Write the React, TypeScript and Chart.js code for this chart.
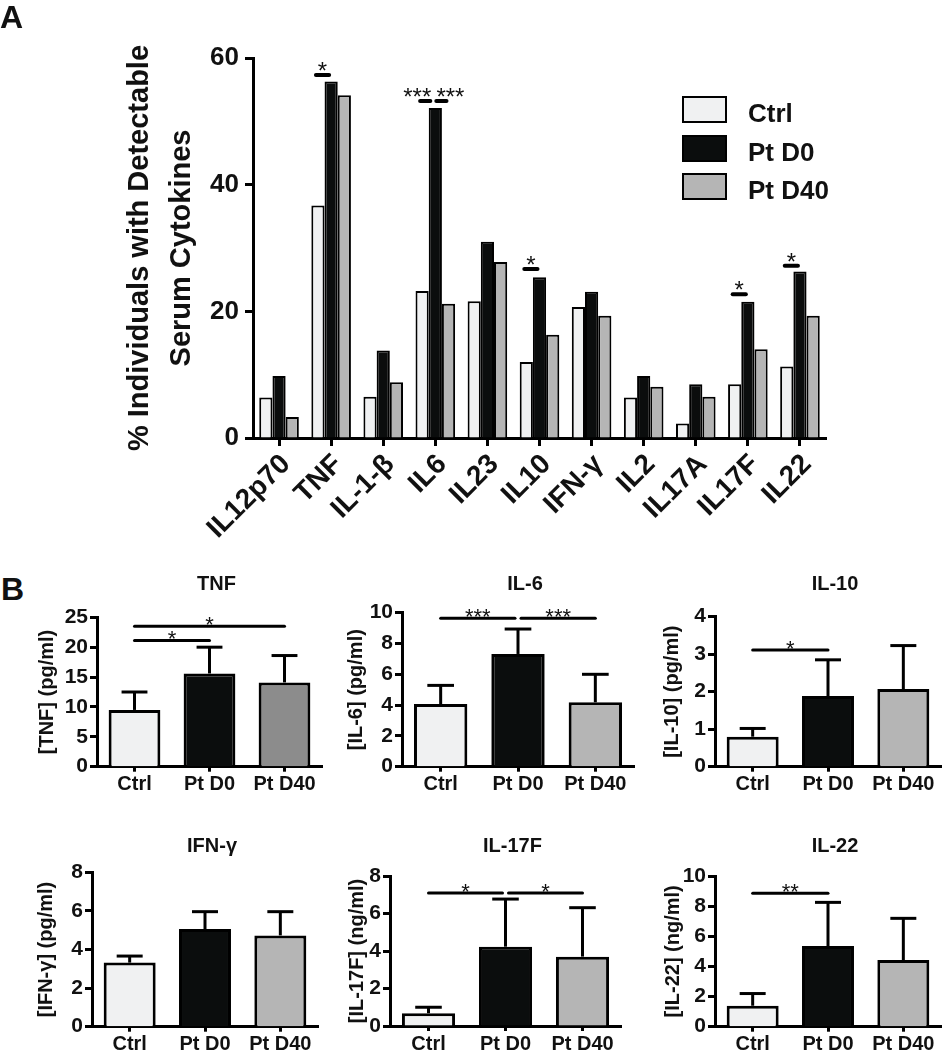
import React, { useEffect, useRef } from 'react';
import { Chart, registerables } from 'chart.js';

Chart.register(...registerables);

const FONT = '"Liberation Sans", Arial, Helvetica, sans-serif';
const BLACK = '#000000';
const TEXT = '#111111';

// ---------------- Panel A data ----------------
const cytokines = ['IL12p70', 'TNF', 'IL-1-β', 'IL6', 'IL23', 'IL10', 'IFN-γ', 'IL2', 'IL17A', 'IL17F', 'IL22'];
const groups = ['Ctrl', 'Pt D0', 'Pt D40'];
const ctrlPct = [6.4, 36.7, 6.5, 23.2, 21.6, 12.0, 20.7, 6.4, 2.3, 8.5, 11.3];
const ptD0Pct = [9.8, 56.3, 13.8, 52.1, 31.0, 25.4, 23.1, 9.8, 8.5, 21.5, 26.3];
const ptD40Pct = [3.3, 54.1, 8.8, 21.2, 27.8, 16.3, 19.3, 8.1, 6.5, 14.0, 19.3];
const pctMax = 60;
const pctStep = 20;
const yTitleA = ['% Individuals with Detectable', 'Serum Cytokines'];

const sigACategory = ['TNF', 'IL6', 'IL6', 'IL10', 'IL17F', 'IL22'];
const sigAFrom = [0, 0, 1, 0, 0, 0];
const sigATo = [1, 1, 2, 1, 1, 1];
const sigALevel = [57.3, 53.2, 53.2, 26.7, 22.7, 27.2];
const sigALabel = ['*', '***', '***', '*', '*', '*'];

const groupColors = ['#f0f1f2', '#0b0d0d', '#b5b5b5'];

// ---------------- Panel B data ----------------
const bGroups = ['Ctrl', 'Pt D0', 'Pt D40'];

const tnfMean = [9.5, 15.6, 14.1];
const tnfErr = [12.5, 20.0, 18.6];
const tnfSigFrom = [0, 0];
const tnfSigTo = [1, 2];
const tnfSigLevel = [21.1, 23.5];
const tnfSigLabel = ['*', '*'];

const il6Mean = [4.07, 7.32, 4.18];
const il6Err = [5.28, 8.94, 6.0];
const il6SigFrom = [0, 1];
const il6SigTo = [1, 2];
const il6SigLevel = [9.64, 9.64];
const il6SigLabel = ['***', '***'];

const il10Mean = [0.8, 1.885, 2.07];
const il10Err = [1.02, 2.85, 3.23];
const il10SigFrom = [0];
const il10SigTo = [1];
const il10SigLevel = [3.11];
const il10SigLabel = ['*'];

const ifnMean = [3.32, 5.06, 4.73];
const ifnErr = [3.66, 5.96, 5.96];
const ifnSigFrom: number[] = [];
const ifnSigTo: number[] = [];
const ifnSigLevel: number[] = [];
const ifnSigLabel: string[] = [];

const il17fMean = [0.68, 4.23, 3.7];
const il17fErr = [1.0, 6.77, 6.31];
const il17fSigFrom = [0, 1];
const il17fSigTo = [1, 2];
const il17fSigLevel = [7.1, 7.1];
const il17fSigLabel = ['*', '*'];

const il22Mean = [1.39, 5.35, 4.42];
const il22Err = [2.2, 8.25, 7.19];
const il22SigFrom = [0];
const il22SigTo = [1];
const il22SigLevel = [8.85];
const il22SigLabel = ['**'];

type SigLine = { x0: number; x1: number; y: number; label: string; dx: number };

function drawSigLines(ctx: CanvasRenderingContext2D, lines: SigLine[], lineWidth: number, starSize: number, starGap: number) {
  ctx.save();
  ctx.strokeStyle = BLACK;
  ctx.fillStyle = TEXT;
  ctx.lineWidth = lineWidth;
  ctx.lineCap = 'round';
  for (const l of lines) {
    ctx.beginPath();
    ctx.moveTo(l.x0, l.y);
    ctx.lineTo(l.x1, l.y);
    ctx.stroke();
    ctx.font = `normal ${starSize}px ${FONT}`;
    ctx.textAlign = 'center';
    ctx.textBaseline = 'alphabetic';
    ctx.fillText(l.label, (l.x0 + l.x1) / 2 + l.dx, l.y - starGap + 0.58 * starSize);
  }
  ctx.restore();
}

// ---------------- Panel A ----------------
function PanelA() {
  const ref = useRef<HTMLCanvasElement>(null);
  useEffect(() => {
    const W = 943;
    const H = 545;
    const area = { left: 253, right: 826, top: 58, bottom: 438 };
    const padLeft = 119;

    const sigPlugin = {
      id: 'sigA',
      afterDatasetsDraw(chart: any) {
        const ys = chart.scales.y;
        const gap = 3;
        const lines: SigLine[] = sigACategory.map((cat, i) => {
          const ci = cytokines.indexOf(cat);
          let x0 = chart.getDatasetMeta(sigAFrom[i]).data[ci].x;
          let x1 = chart.getDatasetMeta(sigATo[i]).data[ci].x;
          const sharedEnd = sigACategory.some((c2, j) => j !== i && c2 === cat && sigAFrom[j] === sigATo[i] && sigALevel[j] === sigALevel[i]);
          const sharedStart = sigACategory.some((c2, j) => j !== i && c2 === cat && sigATo[j] === sigAFrom[i] && sigALevel[j] === sigALevel[i]);
          let dx = 0;
          if (sharedEnd) { x1 -= gap; dx = -8; }
          if (sharedStart) { x0 += gap; dx = 9; }
          return { x0: x0 - 2, x1: x1 - 2, y: ys.getPixelForValue(sigALevel[i]), label: sigALabel[i], dx };
        });
        drawSigLines(chart.ctx, lines, 4, 24, 10);
      },
    };

    const series = [ctrlPct, ptD0Pct, ptD40Pct];
    const chart = new Chart(ref.current as HTMLCanvasElement, {
      type: 'bar',
      data: {
        labels: cytokines,
        datasets: groups.map((g, i) => ({
          label: g,
          data: series[i],
          backgroundColor: groupColors[i],
          borderColor: BLACK,
          borderWidth: 2,
          categoryPercentage: 0.76,
          barPercentage: 1,
        })),
      },
      options: {
        animation: false,
        responsive: false,
        maintainAspectRatio: false,
        devicePixelRatio: 1,
        layout: { padding: { left: padLeft, right: W - area.right, top: area.top, bottom: 0 } },
        plugins: { legend: { display: false }, tooltip: { enabled: false }, title: { display: false } },
        scales: {
          x: {
            offset: true,
            grid: { display: true, drawOnChartArea: false, drawTicks: true, tickLength: 8, tickWidth: 3, tickColor: BLACK, offset: false },
            border: { display: true, width: 3, color: BLACK },
            ticks: {
              color: TEXT,
              font: { family: FONT, size: 28, weight: 'bold' },
              minRotation: 45,
              maxRotation: 45,
              autoSkip: false,
              padding: 2,
              labelOffset: 7,
            },
            afterFit: (s: any) => {
              s.height = H - area.bottom;
            },
          },
          y: {
            min: 0,
            max: pctMax,
            ticks: { stepSize: pctStep, color: TEXT, font: { family: FONT, size: 26, weight: 'bold' }, padding: 6 },
            grid: { display: true, drawOnChartArea: false, drawTicks: true, tickLength: 8, tickWidth: 3, tickColor: BLACK },
            border: { display: true, width: 3, color: BLACK },
            title: {
              display: true,
              text: yTitleA,
              color: TEXT,
              font: { family: FONT, size: 29, weight: 'bold', lineHeight: 1.45 },
              padding: 0,
            },
            afterFit: (s: any) => {
              s.width = area.left - padLeft;
            },
          },
        },
      } as any,
      plugins: [sigPlugin],
    });
    return () => chart.destroy();
  }, []);
  return (
    <canvas
      ref={ref}
      width={943}
      height={545}
      style={{ position: 'absolute', left: 0, top: 0, width: 943, height: 545 }}
    />
  );
}

// ---------------- Panel B small charts ----------------
type Geo = {
  yTitleX: number;
  axisX: number;
  right: number;
  top: number;
  bottom: number;
  canvasTop: number;
  canvasBottom: number;
  titleY: number;
};

type SmallProps = {
  title: string;
  yTitle: string;
  means: number[];
  errs: number[];
  colors: string[];
  yMax: number;
  yStep: number;
  sigFrom: number[];
  sigTo: number[];
  sigLevel: number[];
  sigLabel: string[];
  geo: Geo;
};

function SmallBar(props: SmallProps) {
  const ref = useRef<HTMLCanvasElement>(null);
  const { geo } = props;
  const yTitleSize = 20;
  const yTitleLH = 1.2;
  const cL = Math.round(geo.yTitleX - (yTitleSize * yTitleLH) / 2);
  const cR = Math.min(943, Math.round(geo.right + 15));
  const cW = cR - cL;
  const cT = geo.canvasTop;
  const cH = geo.canvasBottom - geo.canvasTop;

  useEffect(() => {
    const gTop = geo.top - cT;
    const gBottom = geo.bottom - cT;
    const gAxis = geo.axisX - cL;
    const gRight = geo.right - cL;

    const annot = {
      id: 'annotB',
      afterDatasetsDraw(chart: any) {
        const ctx: CanvasRenderingContext2D = chart.ctx;
        const ys = chart.scales.y;
        const meta = chart.getDatasetMeta(0);
        // error bars (upper only)
        ctx.save();
        ctx.strokeStyle = BLACK;
        ctx.lineWidth = 3;
        ctx.lineCap = 'butt';
        props.means.forEach((m, i) => {
          const el = meta.data[i];
          const x = el.x;
          const yTop = ys.getPixelForValue(m);
          const yErr = ys.getPixelForValue(props.errs[i]);
          const half = el.width / 4;
          ctx.beginPath();
          ctx.moveTo(x, yTop);
          ctx.lineTo(x, yErr);
          ctx.stroke();
          ctx.beginPath();
          ctx.moveTo(x - half, yErr);
          ctx.lineTo(x + half, yErr);
          ctx.stroke();
        });
        ctx.restore();
        // significance lines
        const gap = 3;
        const lines: SigLine[] = props.sigFrom.map((f, i) => {
          let x0 = meta.data[f].x;
          let x1 = meta.data[props.sigTo[i]].x;
          const sharedEnd = props.sigFrom.some((f2, j) => j !== i && f2 === props.sigTo[i] && props.sigLevel[j] === props.sigLevel[i]);
          const sharedStart = props.sigTo.some((t2, j) => j !== i && t2 === f && props.sigLevel[j] === props.sigLevel[i]);
          if (sharedEnd) x1 -= gap;
          if (sharedStart) x0 += gap;
          return { x0, x1, y: ys.getPixelForValue(props.sigLevel[i]), label: props.sigLabel[i], dx: 0 };
        });
        drawSigLines(ctx, lines, 3, 22, 7);
        // panel title
        const ca = chart.chartArea;
        ctx.save();
        ctx.fillStyle = TEXT;
        ctx.font = `bold 20px ${FONT}`;
        ctx.textAlign = 'center';
        ctx.textBaseline = 'middle';
        ctx.fillText(props.title, (ca.left + ca.right) / 2 + 7, geo.titleY - cT);
        ctx.restore();
      },
    };

    const chart = new Chart(ref.current as HTMLCanvasElement, {
      type: 'bar',
      data: {
        labels: bGroups,
        datasets: [
          {
            label: props.title,
            data: props.means,
            backgroundColor: props.colors,
            borderColor: BLACK,
            borderWidth: 3,
            barPercentage: 0.69,
            categoryPercentage: 1,
          },
        ],
      },
      options: {
        animation: false,
        responsive: false,
        maintainAspectRatio: false,
        devicePixelRatio: 1,
        layout: { padding: { left: 0, right: cW - gRight, top: gTop, bottom: 0 } },
        plugins: { legend: { display: false }, tooltip: { enabled: false }, title: { display: false } },
        scales: {
          x: {
            offset: true,
            grid: { display: true, drawOnChartArea: false, drawTicks: true, tickLength: 5, tickWidth: 3, tickColor: BLACK, offset: false },
            border: { display: true, width: 3, color: BLACK },
            ticks: { color: TEXT, font: { family: FONT, size: 20, weight: 'bold' }, maxRotation: 0, minRotation: 0, autoSkip: false, padding: 1 },
            afterFit: (s: any) => {
              s.height = cH - gBottom;
            },
          },
          y: {
            min: 0,
            max: props.yMax,
            ticks: { stepSize: props.yStep, color: TEXT, font: { family: FONT, size: 21, weight: 'bold' }, padding: 2 },
            grid: { display: true, drawOnChartArea: false, drawTicks: true, tickLength: 7, tickWidth: 3, tickColor: BLACK },
            border: { display: true, width: 3, color: BLACK },
            title: {
              display: true,
              text: props.yTitle,
              color: TEXT,
              font: { family: FONT, size: yTitleSize, weight: 'bold', lineHeight: yTitleLH },
              padding: 0,
            },
            afterFit: (s: any) => {
              s.width = gAxis;
            },
          },
        },
      } as any,
      plugins: [annot],
    });
    return () => chart.destroy();
  }, []);

  return (
    <canvas
      ref={ref}
      width={cW}
      height={cH}
      style={{ position: 'absolute', left: cL, top: cT, width: cW, height: cH }}
    />
  );
}

const row1 = { canvasTop: 560, canvasBottom: 800, titleY: 584 };
const row2 = { canvasTop: 830, canvasBottom: 1050, titleY: 846 };
const tnfColors = [groupColors[0], groupColors[1], '#8c8c8c'];

const panelsB: SmallProps[] = [
  {
    title: 'TNF', yTitle: '[TNF] (pg/ml)', means: tnfMean, errs: tnfErr, colors: tnfColors, yMax: 25, yStep: 5,
    sigFrom: tnfSigFrom, sigTo: tnfSigTo, sigLevel: tnfSigLevel, sigLabel: tnfSigLabel,
    geo: { yTitleX: 47, axisX: 97, right: 322, top: 617.3, bottom: 766.7, ...row1 },
  },
  {
    title: 'IL-6', yTitle: '[IL-6] (pg/ml)', means: il6Mean, errs: il6Err, colors: groupColors, yMax: 10, yStep: 2,
    sigFrom: il6SigFrom, sigTo: il6SigTo, sigLevel: il6SigLevel, sigLabel: il6SigLabel,
    geo: { yTitleX: 356, axisX: 402, right: 634, top: 612.7, bottom: 766.7, ...row1 },
  },
  {
    title: 'IL-10', yTitle: '[IL-10] (pg/ml)', means: il10Mean, errs: il10Err, colors: groupColors, yMax: 4, yStep: 1,
    sigFrom: il10SigFrom, sigTo: il10SigTo, sigLevel: il10SigLevel, sigLabel: il10SigLabel,
    geo: { yTitleX: 672, axisX: 715, right: 941, top: 616.7, bottom: 766.7, ...row1 },
  },
  {
    title: 'IFN-γ', yTitle: '[IFN-γ] (pg/ml)', means: ifnMean, errs: ifnErr, colors: groupColors, yMax: 8, yStep: 2,
    sigFrom: ifnSigFrom, sigTo: ifnSigTo, sigLevel: ifnSigLevel, sigLabel: ifnSigLabel,
    geo: { yTitleX: 46, axisX: 92, right: 318, top: 872.3, bottom: 1026.7, ...row2 },
  },
  {
    title: 'IL-17F', yTitle: '[IL-17F] (ng/ml)', means: il17fMean, errs: il17fErr, colors: groupColors, yMax: 8, yStep: 2,
    sigFrom: il17fSigFrom, sigTo: il17fSigTo, sigLevel: il17fSigLevel, sigLabel: il17fSigLabel,
    geo: { yTitleX: 357, axisX: 390, right: 621, top: 876, bottom: 1026, ...row2 },
  },
  {
    title: 'IL-22', yTitle: '[IL-22] (ng/ml)', means: il22Mean, errs: il22Err, colors: groupColors, yMax: 10, yStep: 2,
    sigFrom: il22SigFrom, sigTo: il22SigTo, sigLevel: il22SigLevel, sigLabel: il22SigLabel,
    geo: { yTitleX: 673, axisX: 715, right: 941, top: 876, bottom: 1026.7, ...row2 },
  },
];

function Legend() {
  return (
    <>
      {groups.map((g, i) => (
        <React.Fragment key={g}>
          <div
            style={{
              position: 'absolute',
              left: 682,
              top: 96 + i * 38.5,
              width: 45,
              height: 27,
              boxSizing: 'border-box',
              border: '2px solid #000',
              background: groupColors[i],
            }}
          />
          <div
            style={{
              position: 'absolute',
              left: 748,
              top: 98 + i * 38.5,
              height: 27,
              lineHeight: '27px',
              font: `bold 26px ${FONT}`,
              color: TEXT,
              whiteSpace: 'nowrap',
            }}
          >
            {g}
          </div>
        </React.Fragment>
      ))}
    </>
  );
}

export default function App() {
  return (
    <div
      style={{
        position: 'absolute',
        left: 0,
        top: 0,
        width: 943,
        height: 1050,
        overflow: 'hidden',
        background: '#ffffff',
      }}
    >
      <PanelA />
      <Legend />
      {panelsB.map((p) => (
        <SmallBar key={p.title} {...p} />
      ))}
      <div style={{ position: 'absolute', left: 0, top: 1, font: `bold 32px ${FONT}`, lineHeight: '32px', color: TEXT }}>A</div>
      <div style={{ position: 'absolute', left: 1, top: 573, font: `bold 32px ${FONT}`, lineHeight: '32px', color: TEXT }}>B</div>
    </div>
  );
}
